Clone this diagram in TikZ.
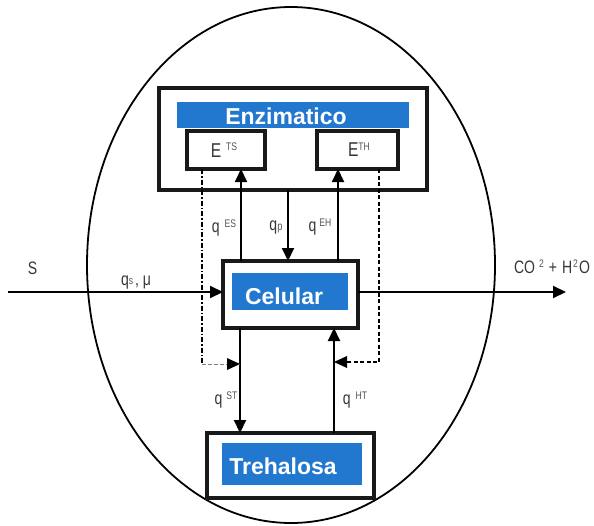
\documentclass[tikz,border=0pt]{standalone}
\usepackage{fontspec}
\setmainfont{Liberation Sans}
\newfontfamily\labfont[FakeStretch=0.78]{Liberation Sans}
\usetikzlibrary{arrows.meta,shapes.geometric,calc}
\definecolor{boxblue}{RGB}{34,119,207}
\definecolor{labgray}{RGB}{55,55,55}
\definecolor{supgray}{RGB}{85,85,85}
\newcommand{\supr}[1]{\raisebox{0.32em}{\fontsize{11}{11}\selectfont\color{supgray}#1}}
\begin{document}
\begin{tikzpicture}[x=1pt,y=-1pt,
  outerbox/.style={draw=black!90, line width=3.8pt, fill=white, inner sep=0pt, outer sep=0pt},
  bluebar/.style={fill=boxblue, inner sep=0pt, outer sep=0pt},
  title/.style={text=white, font=\fontsize{23}{23}\selectfont\bfseries, inner sep=0pt},
  lab/.style={text=labgray, font=\labfont\fontsize{18}{18}\selectfont, inner sep=0pt},
  arr/.style={line width=2pt, -{Triangle[length=13pt,width=12pt]}},
  dashleft/.style={line width=1.8pt, dash pattern=on 5pt off 2pt on 1.5pt off 2pt},
  dashgray/.style={line width=0.8pt, gray, dash pattern=on 4pt off 2pt},
  dashright/.style={line width=2pt, dash pattern=on 4pt off 2.5pt}
]
\useasboundingbox (0,0) rectangle (594,525);
% cell boundary
\node[ellipse, draw, line width=1.8pt, minimum width=408pt, minimum height=516pt, inner sep=0pt] (cell) at (291,265) {};

% Enzimatico block
\node[outerbox, minimum width=268pt, minimum height=102pt] (enz) at (293,139) {};
\node[bluebar, minimum width=232pt, minimum height=26pt] (enzbar) at (293,115) {};
\node[title] (enzt) at (286,116) {Enzimatico};
\node[outerbox, line width=3.5pt, minimum width=78pt, minimum height=38pt] (ets) at (226,150) {};
\node[outerbox, line width=3.5pt, minimum width=81pt, minimum height=38pt] (eth) at (357.5,150) {};
\node[lab, font=\labfont\fontsize{20}{20}\selectfont] (etst) at (224,150) {E\hspace{5pt}\supr{TS}};
\node[lab, font=\labfont\fontsize{20}{20}\selectfont] (etht) at (359,150) {E\supr{TH}};

% Celular block
\node[outerbox, minimum width=135pt, minimum height=67pt] (cel) at (290.5,294.5) {};
\node[bluebar, minimum width=116pt, minimum height=37pt] (celbar) at (290,291.5) {};
\node[title] (celt) at (284,296) {Celular};

% Trehalosa block
\node[outerbox, minimum width=167pt, minimum height=65pt] (tre) at (290.5,465.5) {};
\node[bluebar, minimum width=140pt, minimum height=42pt] (trebar) at (292,464) {};
\node[title] (tret) at (283,466) {Trehalosa};

% helper coordinates
\coordinate (xa) at (241,0);
\coordinate (xp) at (288,0);
\coordinate (xb) at (338,0);
\coordinate (xc) at (240,0);
\coordinate (xd) at (334,0);
\coordinate (in) at (8,292);
\coordinate (out) at (566,292);
\coordinate (dl1) at (202,169);
\coordinate (dl2) at (202,364);
\coordinate (dl3) at (240,364);
\coordinate (dr1) at (379,169);
\coordinate (dr2) at (379,362);
\coordinate (dr3) at (334,362);

% arrows
\draw[arr] (cel.north -| xa) -- (ets.south -| xa);
\draw[arr] (enz.south -| xp) -- (cel.north -| xp);
\draw[arr] (cel.north -| xb) -- (eth.south -| xb);
\draw[arr] (cel.south -| xc) -- (tre.north -| xc);
\draw[arr] (tre.north -| xd) -- (cel.south -| xd);
\draw[arr] (in) -- (cel.west |- in);
\draw[arr] (cel.east |- out) -- (out);

% dashed regulation lines
\draw[dashleft] (dl1) -- (dl2);
\draw[dashgray] (dl2) -- (dl3);
\fill (dl3) -- ++(-13,-6) -- ++(0,12) -- cycle;
\draw[dashright] (dr1) -- (dr2) -- ($(dr3)+(12,0)$);
\fill (dr3) -- ++(13,-6) -- ++(0,12) -- cycle;

% labels
\node[lab] (ls) at (32.5,268) {S};
\node[lab] (lqs) at (136,283) {q\raisebox{0.1em}{\fontsize{11}{11}\selectfont\color{supgray}s}\hspace{2pt}, μ};
\node[lab] (lqes) at (224,228) {q\hspace{5pt}\supr{ES}};
\node[lab] (lqp) at (276,228) {q\raisebox{0.05em}{\fontsize{12}{12}\selectfont\color{supgray}p}};
\node[lab] (lqeh) at (320,227) {q\hspace{3pt}\supr{EH}};
\node[lab] (lqst) at (226,400) {q\hspace{4pt}\supr{ST}};
\node[lab] (lqht) at (355,400) {q\hspace{5pt}\supr{HT}};
\node[lab] (lco) at (552,267) {CO\hspace{4pt}\supr{2}\hspace{5pt}+\hspace{5pt}H\hspace{1pt}\supr{2}\hspace{1pt}O};
\end{tikzpicture}
\end{document}
